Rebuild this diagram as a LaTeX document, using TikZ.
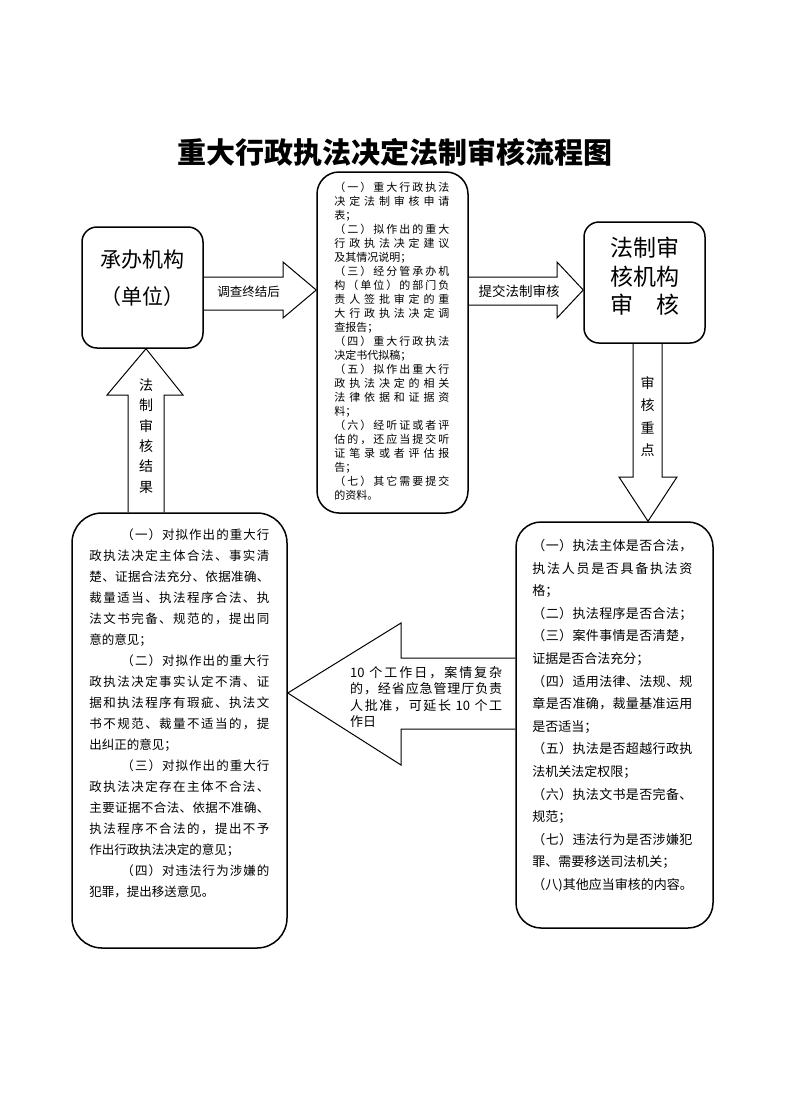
\documentclass[tikz,border=0pt]{standalone}
\usepackage{fontspec}
\newfontfamily\cjk{Noto Sans CJK SC}
\usetikzlibrary{calc}

% one line of text, spread out to the width \jw
\newlength\jw
\makeatletter
\def\spr@end{}
\newcommand\jl[1]{\hbox to \jw{\spr@first#1\spr@end}}
\newcommand\jli[1]{\hbox to \jw{\hskip 32pt\spr@first#1\spr@end}}
\def\spr@first#1{#1\spr@next}
\def\spr@next#1{\ifx\spr@end#1\else\hfil#1\expandafter\spr@next\fi}
\makeatother

\tikzset{
  flowbox/.style={draw,line width=1.5pt,rounded corners=#1,inner sep=0pt},
  blockarrow/.style={draw,line width=1pt,line join=miter},
  boxtext/.style={inner sep=0pt,align=left,anchor=north west},
  fs/.style={font={\cjk\fontsize{#1}{#1}\selectfont}},
}

\begin{document}
\begin{tikzpicture}[x=1pt,y=-1pt]
\useasboundingbox (0,0) rectangle (792,1120);

\node[inner sep=0pt,font={\cjk\bfseries\fontsize{29}{29}\selectfont}] (title) at (395,152) {重大行政执法决定法制审核流程图};

% boxes
\node[flowbox=15pt,minimum width=121,minimum height=121] (unit) at (142.5,287.5) {};
\node[flowbox=22pt,minimum width=151,minimum height=341] (materials) at (392.5,342.5) {};
\node[flowbox=15pt,minimum width=121,minimum height=121] (review) at (644.5,282.5) {};
\node[flowbox=25pt,minimum width=197,minimum height=406] (points) at (614.5,725) {};
\node[flowbox=30pt,minimum width=215,minimum height=435] (opinion) at (179.5,730.5) {};

% box texts
\node[align=center,inner sep=0pt,font={\cjk\fontsize{21}{37}\selectfont}] (unitname) at ($(unit)+(0,-9)$) {承办机构\\（单位）};
\node[align=center,inner sep=0pt,font={\cjk\fontsize{23}{28.5}\selectfont}] (reviewname) at ($(review)+(0,-6)$) {法制审\\核机构\\\hbox to 69pt{审\hfil 核}};

\setlength\jw{115pt}
\node[boxtext,font={\cjk\fontsize{11}{14}\selectfont}] (materialstext) at ($(materials.north west)+(18,11)$) {%
\jl{（一）重大行政执法}\\
\jl{决定法制审核申请}\\
表；\\
\jl{（二）拟作出的重大}\\
\jl{行政执法决定建议}\\
及其情况说明；\\
\jl{（三）经分管承办机}\\
\jl{构（单位）的部门负}\\
\jl{责人签批审定的重}\\
\jl{大行政执法决定调}\\
查报告；\\
\jl{（四）重大行政执法}\\
决定书代拟稿；\\
\jl{（五）拟作出重大行}\\
\jl{政执法决定的相关}\\
\jl{法律依据和证据资}\\
料；\\
\jl{（六）经听证或者评}\\
\jl{估的，还应当提交听}\\
\jl{证笔录或者评估报}\\
告；\\
\jl{（七）其它需要提交}\\
的资料。};

\setlength\jw{160pt}
\node[boxtext,font={\cjk\fontsize{13}{22.6}\selectfont}] (pointstext) at ($(points.north west)+(17,18)$) {%
\jl{（一）执法主体是否合法，}\\
\jl{执法人员是否具备执法资}\\
格；\\
\jl{（二）执法程序是否合法；}\\
\jl{（三）案件事情是否清楚，}\\
证据是否合法充分；\\
\jl{（四）适用法律、法规、规}\\
\jl{章是否准确，裁量基准运用}\\
是否适当；\\
\jl{（五）执法是否超越行政执}\\
法机关法定权限；\\
\jl{（六）执法文书是否完备、}\\
规范；\\
\jl{（七）违法行为是否涉嫌犯}\\
罪、需要移送司法机关；\\
\jl{（八)其他应当审核的内容。}};

\setlength\jw{180pt}
\node[boxtext,font={\cjk\fontsize{12.5}{21}\selectfont}] (opiniontext) at ($(opinion.north west)+(18,16.4)$) {%
\jli{（一）对拟作出的重大行}\\
\jl{政执法决定主体合法、事实清}\\
\jl{楚、证据合法充分、依据准确、}\\
\jl{裁量适当、执法程序合法、执}\\
\jl{法文书完备、规范的，提出同}\\
意的意见；\\
\jli{（二）对拟作出的重大行}\\
\jl{政执法决定事实认定不清、证}\\
\jl{据和执法程序有瑕疵、执法文}\\
\jl{书不规范、裁量不适当的，提}\\
出纠正的意见；\\
\jli{（三）对拟作出的重大行}\\
\jl{政执法决定存在主体不合法、}\\
\jl{主要证据不合法、依据不准确、}\\
\jl{执法程序不合法的，提出不予}\\
作出行政执法决定的意见；\\
\jli{（四）对违法行为涉嫌的}\\
犯罪，提出移送意见。};

% block arrows
\draw[blockarrow] (unit.east |- 0,277) -- (283,277) -- (283,262) -- (materials.west |- 0,290)
  -- (283,318) -- (283,310) -- (unit.east |- 0,310);
\node[fs=12.5,inner sep=0pt] (ended) at (248.5,292) {调查终结后};

\draw[blockarrow] (materials.east |- 0,277) -- (557,277) -- (557,262) -- (review.west |- 0,290)
  -- (557,318) -- (557,305) -- (materials.east |- 0,305);
\node[fs=13.5,inner sep=0pt] (submit) at (519,291) {提交法制审核};

\draw[blockarrow] (633,0 |- review.south) -- (633,477) -- (619,477) -- (648,0 |- points.north)
  -- (677,477) -- (662,477) -- (662,0 |- review.south);
\node[align=center,inner sep=0pt,font={\cjk\fontsize{14}{22.3}\selectfont}] (keypoints) at (647.5,416.5) {审\\核\\重\\点};

\draw[blockarrow] (points.west |- 0,658) -- (401,658) -- (401,623) -- (opinion.east |- 0,693)
  -- (401,765) -- (401,729) -- (points.west |- 0,729);
\setlength\jw{152pt}
\node[boxtext,font={\cjk\fontsize{13}{16.5}\selectfont}] (deadline) at (350,666) {%
\jl{{10 }个工作日，案情复杂}\\
\jl{的，经省应急管理厅负责}\\
\jl{人批准，可延长{ 10 }个工}\\
作日};

\draw[blockarrow] (128,0 |- opinion.north) -- (128,395) -- (107,395) -- (146,0 |- unit.south)
  -- (183,395) -- (164,395) -- (164,0 |- opinion.north);
\node[align=center,inner sep=0pt,font={\cjk\fontsize{14}{20.4}\selectfont}] (result) at (146,436) {法\\制\\审\\核\\结\\果};
\end{tikzpicture}
\end{document}
